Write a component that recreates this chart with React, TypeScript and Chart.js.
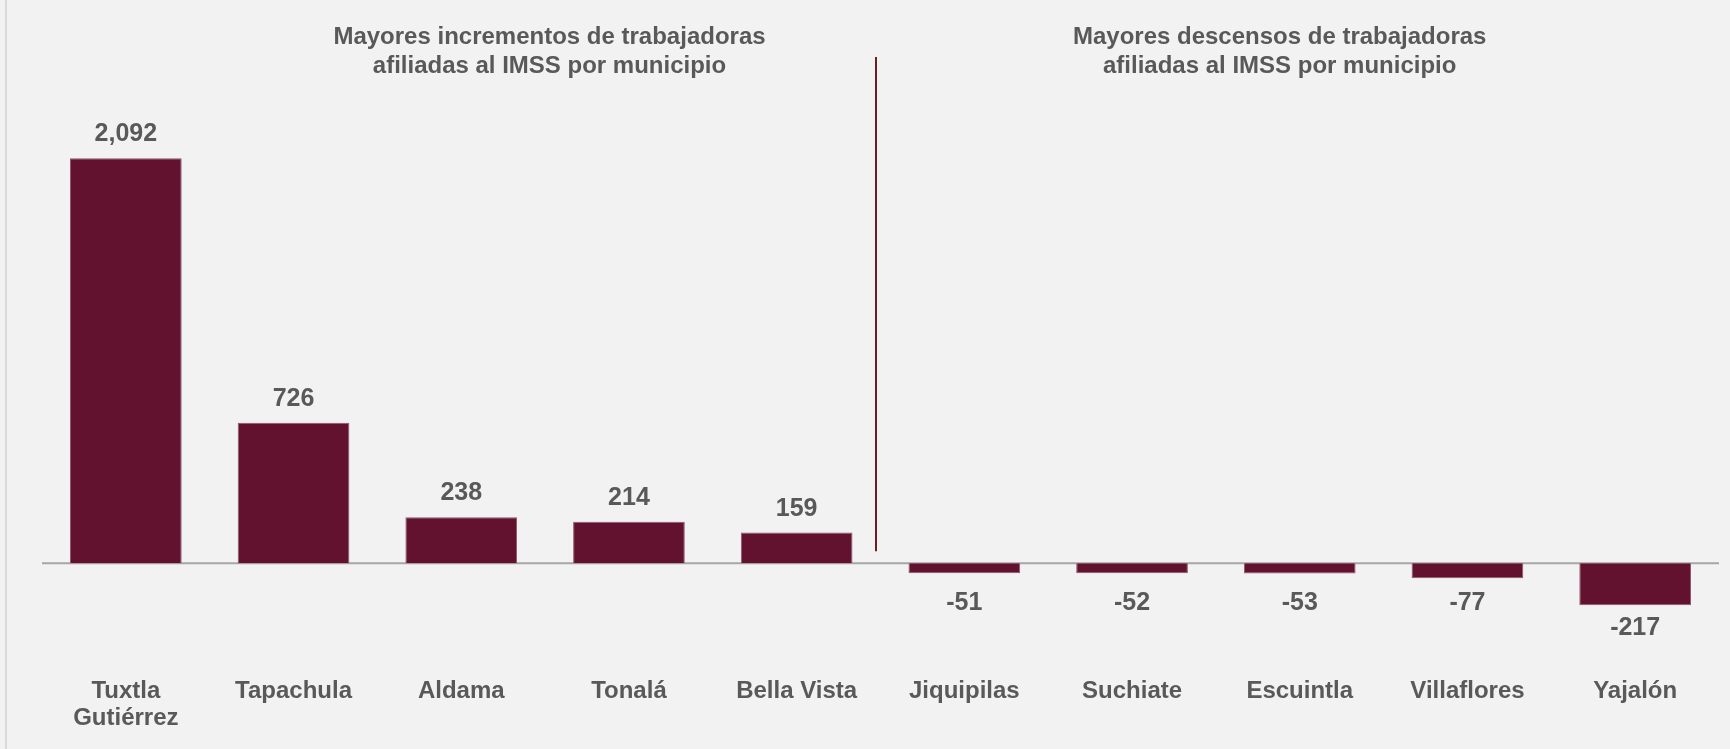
import React, { useEffect, useRef } from "react";
import { Chart, registerables } from "chart.js";

Chart.register(...registerables);

const categories: (string | string[])[] = [
  ["Tuxtla", "Gutiérrez"],
  "Tapachula",
  "Aldama",
  "Tonalá",
  "Bella Vista",
  "Jiquipilas",
  "Suchiate",
  "Escuintla",
  "Villaflores",
  "Yajalón",
];
const values: number[] = [2092, 726, 238, 214, 159, -51, -52, -53, -77, -217];
const titleIncrease: string[] = ["Mayores incrementos de trabajadoras", "afiliadas al IMSS por municipio"];
const titleDecrease: string[] = ["Mayores descensos de trabajadoras", "afiliadas al IMSS por municipio"];

const FONT = '"Liberation Sans", Arial, sans-serif';
const TEXT = "#595959";
const BAR = "#62112f";

const decorPlugin = {
  id: "decor",
  beforeDraw(chart: any) {
    const { ctx, width, height } = chart;
    ctx.save();
    ctx.fillStyle = "#f2f2f2";
    ctx.fillRect(0, 0, width, height);
    ctx.fillStyle = "#dadada";
    ctx.fillRect(5, 0, 2, height);
    ctx.restore();
  },
  beforeDatasetsDraw(chart: any) {
    const { ctx, chartArea } = chart;
    const y = chart.scales.y;
    const x = chart.scales.x;
    const y0 = y.getPixelForValue(0);
    ctx.save();
    ctx.strokeStyle = "#a6a6a6";
    ctx.lineWidth = 2;
    ctx.beginPath();
    ctx.moveTo(chartArea.left, y0);
    ctx.lineTo(chartArea.right, y0);
    ctx.stroke();
    // separator between increases and decreases
    const sx = (x.getPixelForValue(4) + x.getPixelForValue(5)) / 2 - 4.5;
    ctx.strokeStyle = "#6b1f24";
    ctx.lineWidth = 2;
    ctx.beginPath();
    ctx.moveTo(sx, 57);
    ctx.lineTo(sx, y0 - 12);
    ctx.stroke();
    // titles
    ctx.fillStyle = TEXT;
    ctx.font = `bold 24px ${FONT}`;
    ctx.textAlign = "center";
    ctx.textBaseline = "alphabetic";
    titleIncrease.forEach((t, i) => ctx.fillText(t, 549.5, 44.3 + i * 28.4));
    titleDecrease.forEach((t, i) => ctx.fillText(t, 1279.7, 44.3 + i * 28.4));
    ctx.restore();
  },
  afterDatasetsDraw(chart: any) {
    const { ctx } = chart;
    const meta = chart.getDatasetMeta(0);
    const y0 = chart.scales.y.getPixelForValue(0);
    ctx.save();
    ctx.fillStyle = TEXT;
    ctx.font = `bold 25px ${FONT}`;
    ctx.textAlign = "center";
    ctx.textBaseline = "alphabetic";
    meta.data.forEach((bar: any, i: number) => {
      const v = values[i];
      const label = v.toLocaleString("en-US");
      if (v >= 0) {
        ctx.fillText(label, bar.x, bar.y - 17);
      } else {
        const base = Math.max(bar.y + 30, y0 + 47);
        ctx.fillText(label, bar.x, base);
      }
    });
    ctx.restore();
  },
};

export default function App() {
  const ref = useRef<HTMLCanvasElement | null>(null);
  useEffect(() => {
    if (!ref.current) return;
    const chart = new Chart(ref.current, {
      type: "bar",
      data: {
        labels: categories,
        datasets: [
          {
            data: values,
            backgroundColor: BAR,
            borderColor: "#8f5670",
            borderWidth: 1,
            categoryPercentage: 1,
            barPercentage: 0.666,
          },
        ],
      },
      options: {
        animation: false,
        responsive: false,
        layout: { padding: { left: 42, right: 11, top: 60, bottom: 0 } },
        plugins: { legend: { display: false }, title: { display: false }, tooltip: { enabled: false } },
        scales: {
          y: { display: false, min: -450, max: 2600 },
          x: {
            grid: { display: false, drawTicks: false, tickLength: 0 },
            border: { display: false },
            ticks: {
              color: TEXT,
              font: { family: FONT, size: 24, weight: "bold", lineHeight: 1.14 },
              padding: 26.9,
              maxRotation: 0,
              autoSkip: false,
            },
            afterFit: (scale: any) => {
              scale.height = 98.6;
            },
          },
        },
      },
      plugins: [decorPlugin],
    });
    return () => chart.destroy();
  }, []);
  return (
    <div style={{ position: "fixed", left: 0, top: 0, width: 1730, height: 749, background: "#f2f2f2" }}>
      <canvas ref={ref} width={1730} height={749} style={{ display: "block", width: 1730, height: 749 }} />
    </div>
  );
}
